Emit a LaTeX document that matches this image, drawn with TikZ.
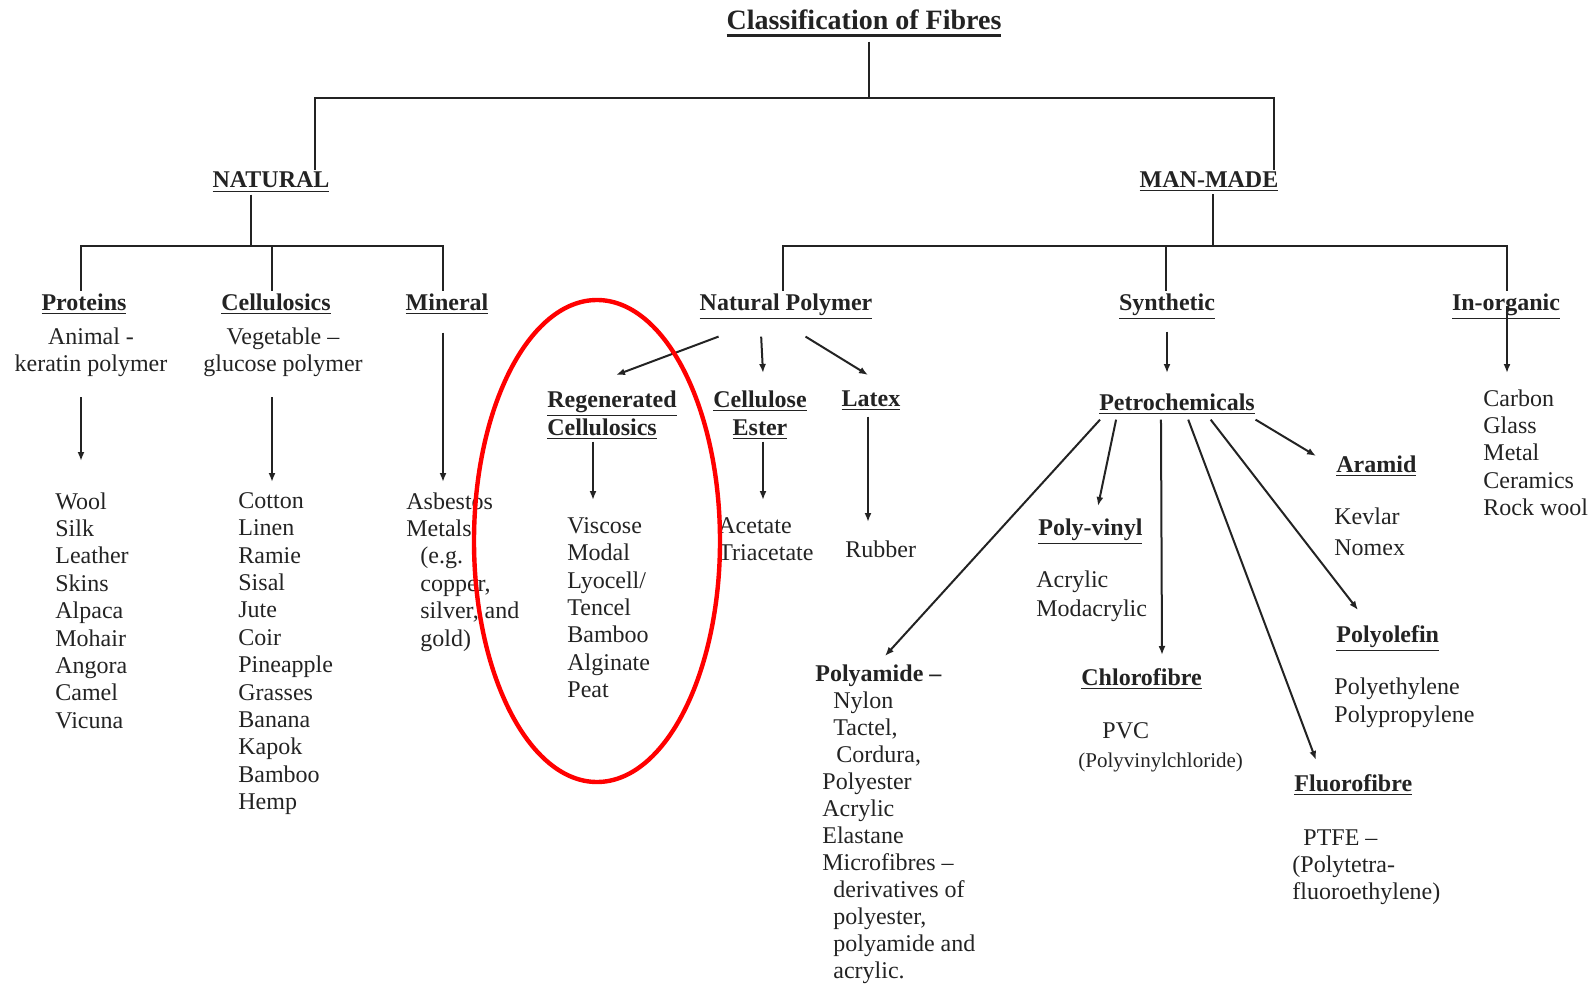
\documentclass[tikz,border=0pt]{standalone}
\usepackage{fontspec}
\setmainfont{Liberation Serif}
\usetikzlibrary{arrows.meta, calc}

\definecolor{ink}{RGB}{35,35,35}
\newcommand{\hdline}[1]{\underline{#1}}
\newcommand{\titleline}[1]{\setbox0\hbox{#1}\usebox0\llap{\rule[-3.6pt]{\wd0}{1.5pt}}}

\begin{document}
\begin{tikzpicture}[
    x=0.5pt, y=-0.5pt,
    every node/.style={text=ink},
    head/.style={font=\bfseries\fontsize{12}{14}\selectfont, inner sep=1pt, anchor=base},
    item/.style={font=\fontsize{12}{13.7}\selectfont, inner sep=0pt, align=left, anchor=north west},
    link/.style={draw=ink, line width=1pt},
    arrow/.style={link, -{Latex[length=4.5pt, width=3.5pt]}}
]
\useasboundingbox (0,0) rectangle (1590,984);

% ------------------------
% Top of the tree
% ------------------------
\node[head, font=\bfseries\fontsize{14}{16}\selectfont, inner sep=2pt] (title) at (864,30) {\titleline{Classification of Fibres}};
\node[head] (natural) at (271,188) {\hdline{NATURAL}};
\node[head] (manmade) at (1209,188) {\hdline{MAN-MADE}};

\coordinate (topbar) at (869,98);
\coordinate (barL) at (315,98);
\coordinate (barR) at (1274,98);
\draw[link] (title.south -| topbar) -- (topbar);
\draw[link] (barL |- natural.north) -- (barL) -- (barR) -- (barR |- manmade.north);

% ------------------------
% Natural fibres
% ------------------------
\node[head] (proteins) at (84,310) {\hdline{Proteins}};
\node[head] (cellulosics) at (276,310) {\hdline{Cellulosics}};
\node[head] (mineral) at (447,310) {\hdline{Mineral}};
\node[item, align=center, anchor=north] (animal) at (91,327) {Animal -\\keratin polymer};
\node[item, align=center, anchor=north] (vegetable) at (283,327) {Vegetable –\\glucose polymer};

\coordinate (natbar) at (251,246);
\coordinate (protbar) at (81,246);
\coordinate (cellbar) at (272,246);
\coordinate (minbar) at (443,246);
\draw[link] (natbar |- natural.south) -- (natbar);
\draw[link] (protbar |- proteins.north) -- (protbar) -- (minbar) -- (minbar |- mineral.north);
\draw[link] (cellbar) -- (cellbar |- cellulosics.north);

\node[item] (protlist) at (55,492) {Wool\\Silk\\Leather\\Skins\\Alpaca\\Mohair\\Angora\\Camel\\Vicuna};
\node[item] (celllist) at (238,492) {Cotton\\Linen\\Ramie\\Sisal\\Jute\\Coir\\Pineapple\\Grasses\\Banana\\Kapok\\Bamboo\\Hemp};
\node[item] (minlist) at (406,492) {Asbestos\\Metals\\\hspace{7pt}(e.g.\\\hspace{7pt}copper,\\\hspace{7pt}silver, and\\\hspace{7pt}gold)};

\coordinate (protTip) at (81,461);
\coordinate (cellTip) at (272,482);
\coordinate (minTip) at (443,482);
\draw[arrow, shorten <=10pt] (protTip |- animal.south) -- (protTip);
\draw[arrow, shorten <=10pt] (cellTip |- vegetable.south) -- (cellTip);
\draw[arrow, shorten <=8pt] (minTip |- mineral.south) -- (minTip);

% ------------------------
% Man-made fibres
% ------------------------
\node[head] (natpoly) at (786,310) {\hdline{Natural Polymer}};
\node[head] (synthetic) at (1167,310) {\hdline{Synthetic}};
\node[head] (inorganic) at (1506,310) {\hdline{In-organic}};

\coordinate (mmbar) at (1213,246);
\coordinate (npbar) at (783,246);
\coordinate (synbar) at (1166,246);
\coordinate (inbar) at (1507,246);
\draw[link] (mmbar |- manmade.south) -- (mmbar);
\draw[link] (npbar |- natpoly.north) -- (npbar) -- (inbar) -- (inbar |- inorganic.north);
\draw[link] (synbar) -- (synbar |- synthetic.north);

% natural polymer
\node[head, align=left, anchor=north west] (regen) at (545,388) {\hdline{Regenerated}\\\hdline{Cellulosics}};
\node[head, align=center, anchor=north] (ester) at (760,388) {\hdline{Cellulose}\\\hdline{Ester}};
\node[head] (latex) at (871,406) {\hdline{Latex}};

\coordinate (regenTip) at (616,375);
\coordinate (esterTip) at (763,373);
\coordinate (latexTip) at (868,375);
\draw[arrow] ($(natpoly.south west)!0.12!(natpoly.south east)+(0,15)$) -- (regenTip);
\draw[arrow] ($(natpoly.south west)!0.36!(natpoly.south east)+(0,15)$) -- (esterTip);
\draw[arrow] ($(natpoly.south west)!0.61!(natpoly.south east)+(0,15)$) -- (latexTip);

\node[item] (regenlist) at (567,517) {Viscose\\Modal\\Lyocell/\\Tencel\\Bamboo\\Alginate\\Peat};
\node[item] (esterlist) at (718,517) {Acetate\\Triacetate};
\node[item, anchor=base west] (rubber) at (845,557) {Rubber};

\coordinate (regenDown) at (593,500);
\coordinate (esterDown) at (763,500);
\coordinate (latexDown) at (868,522);
\draw[arrow] (regenDown |- regen.south) -- (regenDown);
\draw[arrow] (esterDown |- ester.south) -- (esterDown);
\draw[arrow, shorten <=2pt] (latexDown |- latex.south) -- (latexDown);

% synthetic
\node[head] (petro) at (1177,410) {\hdline{Petrochemicals}};
\coordinate (synTip) at (1167,373);
\draw[arrow, shorten <=5pt] (synTip |- synthetic.south) -- (synTip);

\node[item, font=\fontsize{12}{13.5}\selectfont] (polyamide) at (815,664) {\textbf{Polyamide –}\\\hspace{9pt}Nylon\\\hspace{9pt}Tactel,\\\hspace{10.5pt}Cordura,\\\hspace{3.5pt}Polyester\\\hspace{3.5pt}Acrylic\\\hspace{3.5pt}Elastane\\\hspace{3.5pt}Microfibres –\\\hspace{9pt}derivatives of\\\hspace{9pt}polyester,\\\hspace{9pt}polyamide and\\\hspace{9pt}acrylic.};

\node[head, anchor=base west] (polyvinyl) at (1036,535) {\hdline{Poly-vinyl}};
\node[item] (pvlist) at (1036,570) {Acrylic\\[1pt]Modacrylic};

\node[head, anchor=base west] (chloro) at (1079,685) {\hdline{Chlorofibre}};
\node[item, anchor=base west] (pvc) at (1102,738) {PVC};
\node[item, anchor=base west, font=\fontsize{10.5}{12}\selectfont] (pvcname) at (1078,767) {(Polyvinylchloride)};

\node[head, anchor=base west] (fluoro) at (1292,791) {\hdline{Fluorofibre}};
\node[item] (ptfe) at (1292,829) {\hspace{5.5pt}PTFE –\\(Polytetra-\\fluoroethylene)};

\node[head, anchor=base west] (polyolefin) at (1334,642) {\hdline{Polyolefin}};
\node[item] (polist) at (1334,677) {Polyethylene\\[0.5pt]Polypropylene};

\node[head, anchor=base west] (aramid) at (1334,472) {\hdline{Aramid}};
\node[item] (arlist) at (1334,507) {Kevlar\\[2pt]Nomex};

\coordinate (paTip) at (885,656);
\coordinate (pvTip) at (1098,506);
\coordinate (clTip) at (1162,655);
\coordinate (flTip) at (1316,760);
\coordinate (poTip) at (1358,610);
\coordinate (arTip) at (1316,456);
\draw[arrow] ($(petro.south west)!0.02!(petro.south east)+(0,3)$) -- (paTip);
\draw[arrow] ($(petro.south west)!0.12!(petro.south east)+(0,3)$) -- (pvTip);
\draw[arrow] ($(petro.south west)!0.40!(petro.south east)+(0,3)$) -- (clTip);
\draw[arrow] ($(petro.south west)!0.57!(petro.south east)+(0,3)$) -- (flTip);
\draw[arrow] ($(petro.south west)!0.71!(petro.south east)+(0,3)$) -- (poTip);
\draw[arrow] ($(petro.south west)!0.99!(petro.south east)+(0,3)$) -- (arTip);

% in-organic
\node[item] (inorglist) at (1483,389) {Carbon\\Glass\\Metal\\Ceramics\\Rock wool};
\coordinate (inTip) at (1507,373);
\draw[arrow] (inTip |- inorganic.center) -- (inTip);

% ------------------------
% Highlight
% ------------------------
\draw[red, line width=2.2pt] (597,541) ellipse [x radius=61.5pt, y radius=120.5pt];

\end{tikzpicture}
\end{document}
